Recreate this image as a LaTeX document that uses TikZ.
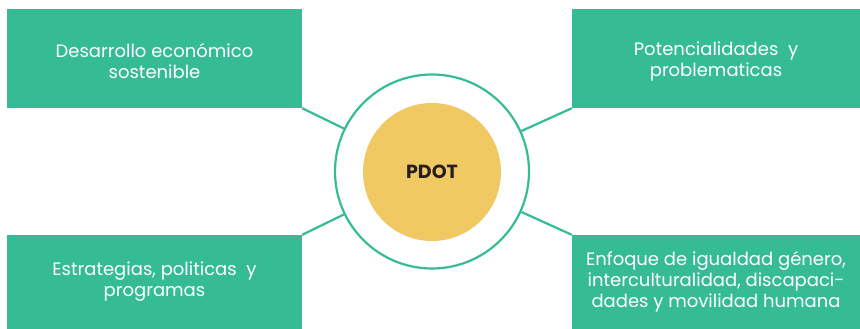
\documentclass[tikz,border=0pt]{standalone}
\usepackage{fontspec}
\setmainfont{Poppins}
\usepackage{tikz}
\definecolor{pdotgreen}{RGB}{53,188,150}
\definecolor{pdotyellow}{RGB}{241,201,98}
\definecolor{pdotdark}{RGB}{35,31,32}

\begin{document}
\begin{tikzpicture}[x=1pt,y=-1pt,
    topic/.style={fill=pdotgreen,text=white,align=center,inner sep=0pt,
      font=\fontsize{18}{21}\selectfont},
    link/.style={draw=pdotgreen,line width=2.2pt}]
  \useasboundingbox (0,0) rectangle (860,329);

  \draw (432,171.5) node[circle,draw=pdotgreen,line width=2.2pt,fill=white,minimum size=194pt] (ring) {};
  \draw (432,172) node[circle,fill=pdotyellow,minimum size=138pt,text=pdotdark,font=\bfseries\fontsize{19}{21}\selectfont] (pdot) {PDOT};

  \draw (154.5,58.5) node[topic,minimum width=295pt,minimum height=99pt] (desarrollo) {\rule{0pt}{20pt}Desarrollo económico\\sostenible};
  \draw (716,58.5) node[topic,minimum width=288pt,minimum height=99pt] (potencial) {\rule{0pt}{20pt}Potencialidades~~y\\problematicas};
  \draw (154.5,282) node[topic,minimum width=295pt,minimum height=94pt] (estrategias) {Estrategias, politicas~~y\\programas};
  \draw (716,282) node[topic,minimum width=288pt,minimum height=94pt] (enfoque) {Enfoque de igualdad género,\\interculturalidad, discapaci-\\dades y movilidad humana};

  % spokes from the box corners to the ring
  \path[link] (desarrollo.south east) edge (ring);
  \path[link] (potencial.south west) edge (ring);
  \path[link] (estrategias.north east) edge (ring);
  \path[link] (enfoque.north west) edge (ring);

\end{tikzpicture}
\end{document}
